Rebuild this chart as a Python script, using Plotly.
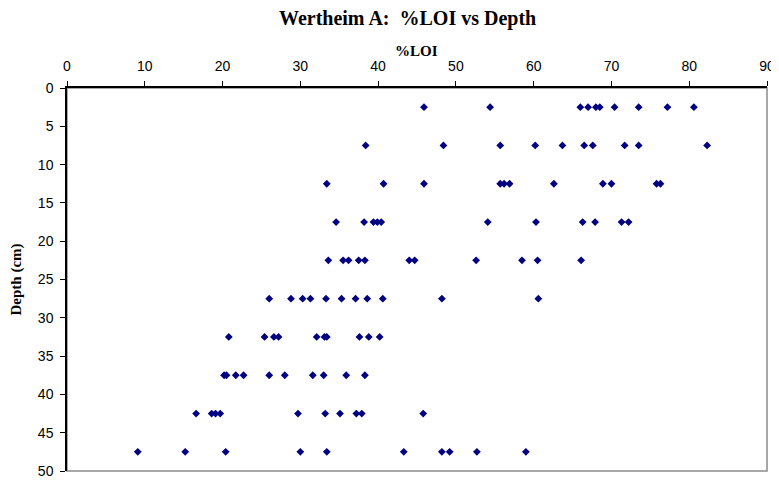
import plotly.graph_objects as go

depth_levels = [2.5, 7.5, 12.5, 17.5, 22.5, 27.5, 32.5, 37.5, 42.5, 47.5]
loi_by_depth = {
    2.5: [45.9, 54.4, 66.0, 67.0, 68.0, 68.5, 70.4, 73.5, 77.2, 80.6],
    7.5: [38.4, 48.4, 55.7, 60.2, 63.7, 66.5, 67.6, 71.7, 73.5, 82.3],
    12.5: [33.4, 40.7, 45.9, 55.7, 56.2, 56.9, 62.6, 68.9, 70.0, 75.8, 76.3],
    17.5: [34.6, 38.2, 39.4, 39.9, 40.4, 54.1, 60.3, 66.3, 67.9, 71.3, 72.2],
    22.5: [33.6, 35.5, 36.2, 37.5, 38.3, 44.0, 44.7, 52.6, 58.5, 60.5, 66.1],
    27.5: [26.0, 28.8, 30.3, 31.3, 33.3, 35.3, 37.1, 38.6, 40.6, 48.2, 60.6],
    32.5: [20.8, 25.4, 26.6, 27.2, 32.1, 33.1, 33.4, 37.6, 38.8, 40.2],
    37.5: [20.2, 20.5, 21.7, 22.7, 26.0, 28.0, 31.6, 33.0, 35.9, 38.3],
    42.5: [16.6, 18.6, 19.1, 19.7, 29.7, 33.2, 35.1, 37.2, 37.9, 45.8],
    47.5: [9.1, 15.2, 20.4, 30.0, 33.4, 43.3, 48.2, 49.2, 52.7, 59.0],
}
x_ticks = [0, 10, 20, 30, 40, 50, 60, 70, 80, 90]
y_ticks = [0, 5, 10, 15, 20, 25, 30, 35, 40, 45, 50]

loi = []
depth = []
for d in depth_levels:
    for v in loi_by_depth[d]:
        loi.append(v)
        depth.append(d)

fig = go.Figure()
fig.add_trace(go.Scatter(
    x=loi, y=depth, mode="markers",
    marker=dict(symbol="diamond", size=6, color="#000080"),
    showlegend=False, cliponaxis=False,
))

fig.update_layout(
    width=771, height=473,
    margin=dict(l=59, r=12, t=80, b=10),
    paper_bgcolor="white", plot_bgcolor="white",
    font=dict(family="Arial, Liberation Sans", size=14, color="black"),
    xaxis=dict(
        side="top", range=[0, 90], tickvals=x_ticks, ticktext=[str(t) for t in x_ticks],
        showgrid=False, zeroline=False, showline=True, linecolor="black", linewidth=1.5,
        ticks="outside", ticklen=5, tickcolor="black", tickwidth=1, automargin=False,
        ticklabelstandoff=5,
        tickfont=dict(family="Arial, Liberation Sans", size=14),
    ),
    yaxis=dict(
        range=[50, 0], tickvals=y_ticks, ticktext=[str(t) for t in y_ticks],
        showgrid=False, zeroline=False, showline=True, linecolor="black", linewidth=1.5,
        ticks="outside", ticklen=5, tickcolor="black", tickwidth=1, automargin=False,
        ticklabelstandoff=4,
        tickfont=dict(family="Arial, Liberation Sans", size=14),
    ),
    shapes=[dict(type="rect", xref="paper", yref="paper", x0=0, x1=1, y0=0, y1=1,
                 line=dict(color="#8c8c8c", width=1.5), layer="below")],
    annotations=[
        dict(text="<b>Wertheim A:  %LOI vs Depth</b>", xref="paper", yref="paper",
             x=0.486, y=1.0, yshift=70, xanchor="center", yanchor="middle", showarrow=False,
             font=dict(family="Times New Roman, Liberation Serif", size=20)),
        dict(text="<b>%LOI</b>", xref="paper", yref="paper",
             x=0.499, y=1.0, yshift=37, xanchor="center", yanchor="middle", showarrow=False,
             font=dict(family="Times New Roman, Liberation Serif", size=15)),
        dict(text="<b>Depth (cm)</b>", xref="paper", yref="paper",
             x=0.0, xshift=-51, y=0.5, xanchor="center", yanchor="middle",
             showarrow=False, textangle=-90,
             font=dict(family="Times New Roman, Liberation Serif", size=15)),
    ],
)

fig.write_html("out.html")
